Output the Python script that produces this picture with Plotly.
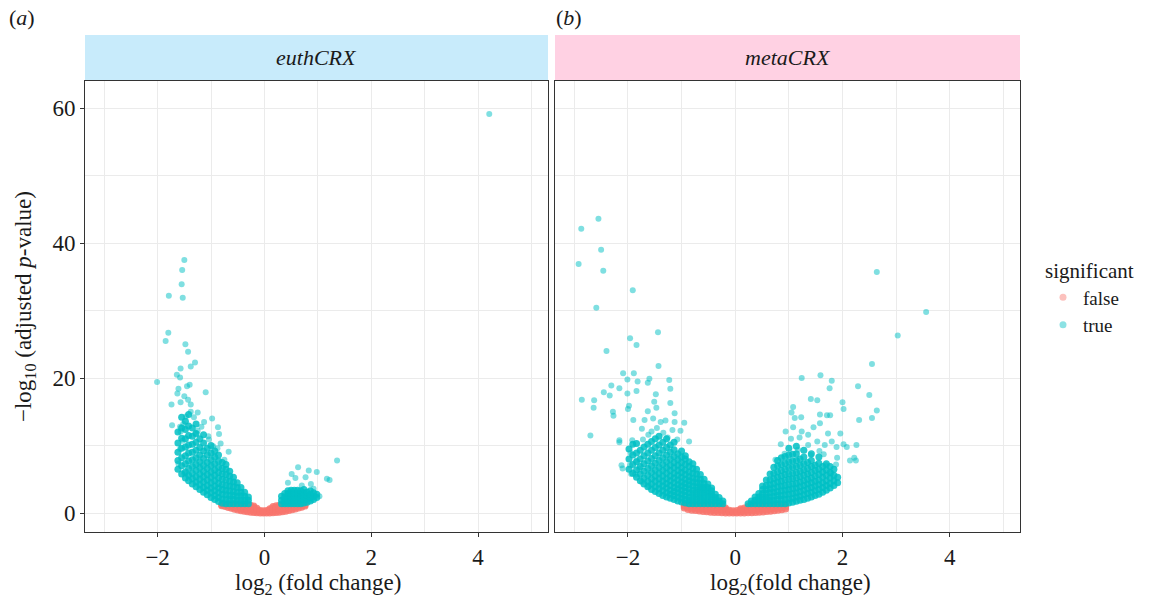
import plotly.graph_objects as go

# ---------------- data ----------------
# euthCRX: isolated significant genes (log2FC, -log10 padj)
euth_true_pts = [
    (4.21, 59.1), (-1.50, 37.5), (-1.54, 36.0), (-1.55, 33.9), (-1.79, 32.2), (-1.53, 31.9),
    (-1.80, 26.7), (-1.85, 25.5), (-1.48, 25.0), (-1.43, 23.9), (-1.30, 22.3), (-1.38, 21.7),
    (-1.57, 21.4), (-1.64, 20.5), (-1.58, 20.1), (-2.01, 19.4), (-1.40, 19.0), (-1.45, 18.8),
    (-1.10, 17.9), (-1.61, 18.4), (-1.63, 17.7), (-1.50, 17.3), (-1.43, 16.8), (-1.57, 16.4),
    (-1.74, 16.1), (-1.38, 16.1), (-1.25, 14.9), (-1.47, 14.3), (-1.32, 14.2), (-0.98, 14.0),
    (-1.73, 13.0), (-1.58, 12.8), (-1.13, 13.5), (-0.87, 12.7), (-1.57, 12.1), (-0.85, 11.7),
    (-1.29, 11.8), (-1.04, 10.9), (-1.53, 10.7), (-0.82, 10.3), (-0.67, 9.1), (-1.61, 7.3),
    (-1.50, 5.9), (-1.52, 13.2), (-1.38, 15.0), (-1.18, 12.8), (-1.05, 11.4), (-0.88, 9.6),
    (-0.75, 7.9), (-1.58, 9.5), (-1.25, 12.2), (-0.96, 9.9),
    (1.36, 7.8), (0.63, 6.8), (0.83, 6.3), (0.98, 6.1), (0.51, 5.8), (0.58, 5.2), (0.77, 5.3),
    (1.17, 5.1), (1.22, 4.9), (0.44, 4.5), (0.70, 4.1), (0.87, 4.3), (0.92, 3.6), (1.03, 2.5),
]
# euthCRX: dense significant genes, listed as (log2FC, [-log10 padj values])
euth_true_cols = [
    (-1.62, [6.5, 7.8, 9.0, 10.4, 12.0]),
    (-1.55, [5.8, 7.0, 8.2, 9.6, 11.1, 12.6, 14.2]),
    (-1.48, [5.2, 6.1, 7.3, 8.5, 9.8, 11.0, 12.4, 13.6]),
    (-1.42, [4.8, 5.6, 6.6, 7.7, 8.9, 10.1, 11.5, 12.9, 14.6]),
    (-1.35, [4.3, 5.1, 5.9, 6.9, 7.9, 9.0, 10.2, 11.4, 12.6]),
    (-1.28, [3.9, 4.6, 5.4, 6.3, 7.2, 8.2, 9.3, 10.5, 11.8, 13.2]),
    (-1.21, [3.5, 4.2, 5.0, 5.8, 6.7, 7.6, 8.6, 9.7, 11.0]),
    (-1.14, [3.1, 3.8, 4.6, 5.4, 6.2, 7.1, 8.1, 9.2, 10.4, 11.6]),
    (-1.07, [2.7, 3.4, 4.1, 4.9, 5.7, 6.6, 7.5, 8.6, 9.6]),
    (-1.00, [2.3, 3.0, 3.7, 4.5, 5.3, 6.1, 7.0, 7.9, 8.9, 10.0]),
    (-0.93, [2.0, 2.6, 3.3, 4.0, 4.8, 5.6, 6.4, 7.3, 8.3, 9.2]),
    (-0.86, [1.7, 2.3, 3.0, 3.7, 4.4, 5.2, 6.0, 6.8, 7.7, 8.6]),
    (-0.79, [1.45, 2.1, 2.8, 3.5, 4.2, 5.0, 5.8, 6.6, 7.5]),
    (-0.72, [1.4, 2.0, 2.7, 3.4, 4.1, 4.9, 5.7, 6.5, 7.2]),
    (-0.65, [1.4, 2.0, 2.6, 3.3, 4.0, 4.7, 5.5, 6.2]),
    (-0.58, [1.4, 2.0, 2.6, 3.2, 3.9, 4.6, 5.3]),
    (-0.51, [1.4, 1.9, 2.5, 3.1, 3.8, 4.5]),
    (-0.44, [1.4, 1.9, 2.5, 3.1, 3.8]),
    (-0.37, [1.4, 1.9, 2.5, 3.1]),
    (-0.30, [1.4, 1.9, 2.4]),
    (0.32, [1.4, 1.9, 2.5]),
    (0.38, [1.4, 1.9, 2.4, 2.9]),
    (0.44, [1.4, 1.9, 2.4, 2.9, 3.3]),
    (0.50, [1.4, 1.9, 2.4, 2.9, 3.4]),
    (0.56, [1.4, 1.9, 2.4, 2.9, 3.4]),
    (0.62, [1.4, 1.9, 2.4, 2.9, 3.4]),
    (0.68, [1.4, 1.9, 2.4, 2.9, 3.3]),
    (0.74, [1.5, 2.0, 2.5, 3.0, 3.5]),
    (0.80, [1.6, 2.1, 2.6, 3.1]),
    (0.86, [1.8, 2.3, 2.8, 3.3]),
    (0.92, [2.0, 2.5, 3.0]),
    (0.98, [2.3, 2.8]),
]
# euthCRX: non-significant genes
euth_false_cols = [
    (-0.80, [1.1, 1.25]), (-0.74, [0.98, 1.2]), (-0.68, [0.84, 1.08, 1.28]),
    (-0.62, [0.7, 0.95, 1.2]), (-0.56, [0.58, 0.83, 1.08, 1.28]), (-0.50, [0.46, 0.72, 0.98, 1.22]),
    (-0.44, [0.36, 0.62, 0.88, 1.14]), (-0.38, [0.27, 0.53, 0.8, 1.06, 1.28]),
    (-0.32, [0.19, 0.45, 0.72, 0.98, 1.22]), (-0.26, [0.12, 0.38, 0.64, 0.9, 1.15]),
    (-0.20, [0.07, 0.32, 0.57, 0.82, 1.06]), (-0.14, [0.04, 0.27, 0.5, 0.72]),
    (-0.08, [0.01, 0.2, 0.4]), (-0.02, [0.0, 0.18, 0.36]), (0.04, [0.0, 0.19, 0.38]),
    (0.10, [0.02, 0.24, 0.46, 0.66]), (0.16, [0.05, 0.29, 0.53, 0.77, 0.98]),
    (0.22, [0.09, 0.34, 0.6, 0.86, 1.1]), (0.28, [0.14, 0.4, 0.66, 0.92, 1.17]),
    (0.34, [0.21, 0.47, 0.73, 0.99, 1.24]), (0.40, [0.29, 0.55, 0.81, 1.07, 1.28]),
    (0.46, [0.38, 0.64, 0.9, 1.15]), (0.52, [0.49, 0.75, 1.0, 1.24]),
    (0.58, [0.61, 0.86, 1.1]), (0.64, [0.74, 0.98, 1.22]), (0.70, [0.88, 1.1, 1.28]),
    (0.76, [1.04, 1.24]),
]

# metaCRX: isolated significant genes
meta_true_pts = [
    (-2.55, 43.6), (-2.87, 42.1), (-2.50, 39.0), (-2.92, 36.9), (-2.46, 35.9), (-1.91, 33.0),
    (-2.59, 30.4), (-1.44, 26.8), (-1.96, 25.9), (-1.84, 24.9), (-2.40, 24.0), (-1.43, 21.8),
    (-2.09, 20.7), (-1.89, 20.7), (-2.01, 19.8), (-1.82, 19.5), (-1.60, 19.9), (-1.23, 19.7),
    (-1.63, 19.3), (-2.31, 18.9), (-2.16, 18.5), (-2.45, 17.9), (-2.34, 17.4), (-2.01, 17.7),
    (-1.84, 18.1), (-1.21, 18.4), (-2.86, 16.8), (-2.63, 16.7), (-2.64, 15.6), (-1.98, 15.9),
    (-1.21, 16.3), (-1.51, 16.5), (-1.48, 17.6), (-2.28, 15.0), (-2.27, 14.4), (-2.00, 15.4),
    (-1.63, 15.1), (-1.47, 15.6), (-1.13, 14.8), (-1.90, 13.8), (-1.69, 13.8), (-1.53, 14.0),
    (-1.39, 13.5), (-1.30, 13.7), (-1.13, 13.5), (-0.95, 13.4), (-1.74, 12.5), (-1.56, 12.1),
    (-2.70, 11.5), (-1.17, 12.3), (-1.02, 12.2), (-2.16, 10.8), (-2.16, 10.5), (-1.92, 10.8),
    (-1.72, 10.9), (-0.86, 10.6), (-1.95, 8.9), (-1.84, 7.8), (-2.12, 7.1), (-2.10, 6.6),
    (-1.96, 7.1), (-1.94, 5.8), (-1.86, 5.7), (-1.74, 4.6), (-1.61, 4.0), (-1.79, 6.6),
    (-1.34, 11.9), (-1.26, 11.2), (-1.08, 10.9), (-1.46, 12.6), (-1.62, 11.6),
    (2.64, 35.7), (3.56, 29.8), (3.03, 26.3), (2.55, 22.1), (1.24, 20.0), (1.59, 20.4),
    (1.80, 19.6), (1.76, 18.5), (2.29, 18.8), (2.50, 17.5), (1.41, 16.9), (1.53, 16.7),
    (2.00, 16.4), (2.02, 15.4), (2.64, 15.2), (2.55, 14.1), (2.31, 13.8), (1.08, 15.7),
    (1.05, 14.9), (1.11, 14.1), (1.23, 14.2), (1.58, 14.6), (1.71, 14.5), (1.77, 14.5),
    (1.58, 13.3), (1.46, 12.7), (1.08, 12.7), (1.24, 12.1), (0.94, 12.1), (1.36, 11.6),
    (1.96, 11.8), (1.73, 11.8), (1.20, 11.2), (1.04, 11.0), (1.36, 10.1), (1.53, 10.6),
    (1.67, 10.1), (1.80, 10.6), (1.89, 9.8), (2.02, 10.2), (2.08, 9.8), (2.26, 10.1),
    (0.85, 10.2), (1.17, 9.4), (1.41, 8.6), (1.57, 9.2), (1.65, 8.7), (1.90, 8.2),
    (2.14, 7.8), (2.22, 8.2), (2.25, 7.8), (1.69, 7.1), (1.88, 7.2), (1.79, 5.9),
    (0.75, 7.9), (0.92, 8.8),
]
# metaCRX: dense significant genes
meta_true_cols = [
    (-1.98, [6.5, 8.0, 9.5]),
    (-1.91, [5.9, 7.2, 8.6, 10.2]),
    (-1.84, [5.3, 6.4, 7.6, 8.9, 10.3]),
    (-1.77, [4.8, 5.8, 6.9, 8.0, 9.3]),
    (-1.70, [4.3, 5.2, 6.2, 7.3, 8.5, 9.8]),
    (-1.63, [3.9, 4.7, 5.6, 6.6, 7.7, 8.9, 10.2]),
    (-1.56, [3.5, 4.3, 5.1, 6.0, 7.0, 8.1, 9.3, 10.6]),
    (-1.49, [3.2, 3.9, 4.7, 5.5, 6.4, 7.4, 8.5, 9.7, 11.0]),
    (-1.42, [2.9, 3.6, 4.3, 5.1, 5.9, 6.8, 7.8, 8.9, 10.1, 11.4]),
    (-1.35, [2.6, 3.3, 4.0, 4.7, 5.5, 6.3, 7.2, 8.2, 9.3, 10.5]),
    (-1.28, [2.4, 3.0, 3.7, 4.4, 5.1, 5.9, 6.7, 7.6, 8.6, 9.7, 11.0]),
    (-1.21, [2.2, 2.8, 3.4, 4.1, 4.8, 5.5, 6.3, 7.1, 8.0, 9.0, 10.1]),
    (-1.14, [2.0, 2.6, 3.2, 3.8, 4.5, 5.2, 5.9, 6.7, 7.5, 8.4, 9.4, 10.5]),
    (-1.07, [1.8, 2.4, 3.0, 3.6, 4.2, 4.9, 5.6, 6.3, 7.1, 7.9, 8.8]),
    (-1.00, [1.65, 2.2, 2.8, 3.4, 4.0, 4.6, 5.3, 6.0, 6.7, 7.5, 8.3, 9.2]),
    (-0.93, [1.5, 2.0, 2.6, 3.2, 3.8, 4.4, 5.0, 5.7, 6.4, 7.2, 8.0, 8.5]),
    (-0.86, [1.4, 1.9, 2.4, 3.0, 3.6, 4.2, 4.8, 5.4, 6.1, 6.9, 7.6]),
    (-0.79, [1.4, 1.9, 2.4, 2.9, 3.4, 4.0, 4.6, 5.2, 5.9, 6.6, 7.3]),
    (-0.72, [1.4, 1.9, 2.4, 2.9, 3.4, 3.9, 4.5, 5.1, 5.8, 6.5]),
    (-0.65, [1.4, 1.9, 2.4, 2.9, 3.4, 3.9, 4.4, 5.0, 5.7]),
    (-0.58, [1.4, 1.9, 2.4, 2.9, 3.4, 3.8, 4.4, 5.0]),
    (-0.51, [1.4, 1.9, 2.4, 2.9, 3.3, 3.8, 4.3]),
    (-0.44, [1.4, 1.9, 2.4, 2.8, 3.3, 3.7]),
    (-0.37, [1.4, 1.9, 2.3, 2.8]),
    (-0.30, [1.4, 1.8, 2.3]),
    (-0.23, [1.4, 1.8]),
    (0.24, [1.4]),
    (0.30, [1.4, 1.8]),
    (0.37, [1.4, 1.9, 2.4]),
    (0.44, [1.4, 1.9, 2.4, 2.9]),
    (0.51, [1.4, 1.9, 2.4, 2.9, 3.5, 4.0]),
    (0.58, [1.4, 1.9, 2.4, 2.9, 3.5, 4.1, 4.9]),
    (0.65, [1.4, 1.9, 2.4, 3.0, 3.6, 4.2, 4.9, 5.8]),
    (0.72, [1.4, 1.9, 2.5, 3.1, 3.7, 4.4, 5.1, 5.9, 6.8]),
    (0.79, [1.4, 2.0, 2.6, 3.2, 3.9, 4.6, 5.3, 6.1, 7.0, 7.8]),
    (0.86, [1.4, 2.0, 2.6, 3.3, 4.0, 4.7, 5.5, 6.3, 7.2, 8.2]),
    (0.93, [1.4, 2.0, 2.7, 3.4, 4.1, 4.9, 5.7, 6.5, 7.4, 8.4]),
    (1.00, [1.5, 2.1, 2.8, 3.5, 4.2, 5.0, 5.8, 6.7, 7.6, 8.6, 9.6]),
    (1.07, [1.6, 2.2, 2.9, 3.6, 4.3, 5.1, 5.9, 6.8, 7.7, 8.7]),
    (1.14, [1.75, 2.4, 3.0, 3.7, 4.4, 5.2, 6.0, 6.9, 7.8, 8.8, 9.9]),
    (1.21, [1.9, 2.5, 3.2, 3.9, 4.6, 5.4, 6.2, 7.1, 8.0]),
    (1.28, [2.0, 2.7, 3.4, 4.1, 4.8, 5.6, 6.4, 7.3, 8.3, 9.3]),
    (1.35, [2.2, 2.9, 3.6, 4.3, 5.0, 5.8, 6.6, 7.5]),
    (1.42, [2.4, 3.1, 3.8, 4.5, 5.2, 6.0, 6.9, 7.8, 8.8]),
    (1.49, [2.6, 3.3, 4.0, 4.7, 5.5, 6.3, 7.1]),
    (1.56, [2.8, 3.5, 4.2, 4.9, 5.7, 6.5, 7.4, 8.3]),
    (1.63, [3.1, 3.8, 4.5, 5.3, 6.1, 6.9]),
    (1.70, [3.4, 4.1, 4.8, 5.6, 6.4, 7.3]),
    (1.77, [3.7, 4.4, 5.2, 6.0, 6.9]),
    (1.84, [4.1, 4.8, 5.6, 6.5]),
    (1.91, [4.5, 5.3]),
]
# metaCRX: non-significant genes
meta_false_cols = [
    (-0.95, [0.75, 1.0, 1.25]), (-0.88, [0.52, 0.8, 1.08]), (-0.81, [0.44, 0.72, 1.0, 1.25]),
    (-0.74, [0.37, 0.65, 0.93, 1.2]), (-0.67, [0.3, 0.58, 0.86, 1.14]),
    (-0.60, [0.24, 0.52, 0.8, 1.08]), (-0.53, [0.19, 0.47, 0.75, 1.03, 1.27]),
    (-0.46, [0.14, 0.42, 0.7, 0.98, 1.25]), (-0.39, [0.1, 0.38, 0.66, 0.94, 1.2]),
    (-0.32, [0.07, 0.35, 0.62, 0.9, 1.15]), (-0.25, [0.04, 0.3, 0.56, 0.82, 1.08]),
    (-0.18, [0.02, 0.27, 0.52, 0.76]), (-0.11, [0.01, 0.22, 0.44]), (-0.04, [0.0, 0.18, 0.36]),
    (0.03, [0.0, 0.18, 0.38]), (0.10, [0.01, 0.23, 0.46, 0.66]), (0.17, [0.02, 0.26, 0.5, 0.74]),
    (0.24, [0.04, 0.3, 0.56, 0.82, 1.06]), (0.31, [0.06, 0.33, 0.6, 0.87, 1.12]),
    (0.38, [0.09, 0.37, 0.65, 0.93, 1.2]), (0.45, [0.13, 0.41, 0.69, 0.97, 1.24]),
    (0.52, [0.18, 0.46, 0.74, 1.02, 1.27]), (0.59, [0.23, 0.51, 0.79, 1.07]),
    (0.66, [0.28, 0.57, 0.85, 1.13]), (0.73, [0.35, 0.63, 0.91, 1.19]),
    (0.80, [0.42, 0.7, 0.98, 1.25]), (0.87, [0.5, 0.78, 1.06]), (0.94, [0.6, 0.9, 1.18]),
]

panel_names = ["euthCRX", "metaCRX"]
panel_tags = ["a", "b"]
legend_labels = ["false", "true"]
x_tick_vals = [-2, 0, 2, 4]
x_tick_text = ["\u22122", "0", "2", "4"]
y_tick_vals = [0, 20, 40, 60]
y_tick_text = ["0", "20", "40", "60"]


def from_cols(cols):
    xs, ys = [], []
    for x, ylist in cols:
        for y in ylist:
            xs.append(x)
            ys.append(y)
    return xs, ys


def from_pts(pts):
    return [p[0] for p in pts], [p[1] for p in pts]


# ---------------- figure ----------------
W, H = 1156, 605
FONT = "'Liberation Serif', 'Times New Roman', Times, 'DejaVu Serif', serif"
TXT = "#1a1a1a"
RED, CYAN = "#F8766D", "#00BFC4"
FS = 22


def px_x(p):
    return p / W


def px_y(p):
    return 1 - p / H


panels = [
    dict(x0=85, x1=548, fill="#C8EBFB", xa="x", ya="y"),
    dict(x0=555, x1=1020, fill="#FFD1E3", xa="x2", ya="y2"),
]
plot_top, plot_bot, strip_top = 81, 532, 35

fig = go.Figure()

data_sets = [
    (euth_false_cols, euth_true_pts, euth_true_cols),
    (meta_false_cols, meta_true_pts, meta_true_cols),
]
for i, (fcols, tpts, tcols) in enumerate(data_sets):
    xa, ya = panels[i]["xa"], panels[i]["ya"]
    fx, fy = from_cols(fcols)
    tx1, ty1 = from_cols(tcols)
    tx2, ty2 = from_pts(tpts)
    # over-plotted (dense) regions look solid in the original
    fig.add_trace(go.Scatter(
        x=fx, y=fy, mode="markers", showlegend=False, xaxis=xa, yaxis=ya,
        marker=dict(color=RED, size=7, opacity=0.85, line=dict(width=0)),
    ))
    fig.add_trace(go.Scatter(
        x=tx1, y=ty1, mode="markers", showlegend=False, xaxis=xa, yaxis=ya,
        marker=dict(color=CYAN, size=7, opacity=0.85, line=dict(width=0)),
    ))
    fig.add_trace(go.Scatter(
        x=tx2, y=ty2, mode="markers", showlegend=False, xaxis=xa, yaxis=ya,
        marker=dict(color=CYAN, size=6, opacity=0.5, line=dict(width=0)),
    ))

# legend entries (no data of their own)
for lab, col in zip(legend_labels, [RED, CYAN]):
    fig.add_trace(go.Scatter(
        x=[None], y=[None], mode="markers", name=lab, showlegend=True,
        marker=dict(color=col, size=7, opacity=0.45, line=dict(width=0)),
    ))

grid_major = "#EBEBEB"
axis_common = dict(
    showline=True, linecolor="#333333", linewidth=1, mirror=True,
    ticks="outside", ticklen=4, tickwidth=1, tickcolor="#333333",
    showgrid=True, gridcolor=grid_major, gridwidth=1.1, zeroline=False,
    tickfont=dict(family=FONT, size=FS + 1, color=TXT),
)
x_range = [-3.36, 5.31]
y_range = [-2.8, 64.0]
yd = [px_y(plot_bot), px_y(plot_top)]

layout = dict(
    width=W, height=H, margin=dict(l=0, r=0, t=0, b=0),
    paper_bgcolor="white", plot_bgcolor="white",
    font=dict(family=FONT, size=FS, color=TXT),
    legend=dict(
        title=dict(text="significant", font=dict(family=FONT, size=FS - 1)),
        font=dict(family=FONT, size=FS - 3), x=px_x(1043), y=px_y(251),
        xanchor="left", yanchor="top", bgcolor="rgba(0,0,0,0)",
        tracegroupgap=0,
    ),
)
for i, p in enumerate(panels):
    xk = "xaxis" if i == 0 else "xaxis2"
    yk = "yaxis" if i == 0 else "yaxis2"
    layout[xk] = dict(
        axis_common, domain=[px_x(p["x0"]), px_x(p["x1"])], range=x_range,
        tickvals=x_tick_vals, ticktext=x_tick_text, anchor=p["ya"],
        minor=dict(tickvals=[-3, -1, 1, 3, 5], showgrid=True, gridcolor=grid_major,
                   gridwidth=0.55, ticks=""),
    )
    layout[yk] = dict(
        axis_common, domain=yd, range=y_range, tickvals=y_tick_vals,
        ticktext=y_tick_text, anchor=p["xa"], showticklabels=(i == 0),
        ticks="outside" if i == 0 else "",
        minor=dict(tickvals=[10, 30, 50], showgrid=True, gridcolor=grid_major,
                   gridwidth=0.55, ticks=""),
    )
fig.update_layout(**layout)

shapes, annos = [], []
for i, p in enumerate(panels):
    shapes.append(dict(type="rect", xref="paper", yref="paper",
                       x0=px_x(p["x0"]), x1=px_x(p["x1"]),
                       y0=px_y(plot_top), y1=px_y(strip_top),
                       fillcolor=p["fill"], line=dict(width=0), layer="below"))
    cx = (p["x0"] + p["x1"]) / 2
    annos.append(dict(text="<i>%s</i>" % panel_names[i], xref="paper", yref="paper",
                      x=px_x(cx), y=px_y((plot_top + strip_top) / 2), showarrow=False,
                      xanchor="center", yanchor="middle",
                      font=dict(family=FONT, size=FS, color=TXT)))
    annos.append(dict(text="(<i>%s</i>)" % panel_tags[i], xref="paper", yref="paper",
                      x=px_x(7 if i == 0 else 554), y=px_y(18), showarrow=False,
                      xanchor="left", yanchor="middle",
                      font=dict(family=FONT, size=FS, color=TXT)))
annos.append(dict(text="log<sub>2</sub> (fold change)", xref="paper", yref="paper",
                  x=px_x(318), y=px_y(584), showarrow=False, xanchor="center",
                  yanchor="middle", font=dict(family=FONT, size=FS + 1, color=TXT)))
annos.append(dict(text="log<sub>2</sub>(fold change)", xref="paper", yref="paper",
                  x=px_x(790), y=px_y(584), showarrow=False, xanchor="center",
                  yanchor="middle", font=dict(family=FONT, size=FS + 1, color=TXT)))
annos.append(dict(text="\u2212log<sub>10</sub> (adjusted <i>p</i>-value)", xref="paper",
                  yref="paper", x=px_x(25), y=px_y(307), showarrow=False, textangle=-90,
                  xanchor="center", yanchor="middle",
                  font=dict(family=FONT, size=FS + 1, color=TXT)))
fig.update_layout(shapes=shapes, annotations=annos)

fig.write_html("out.html")
